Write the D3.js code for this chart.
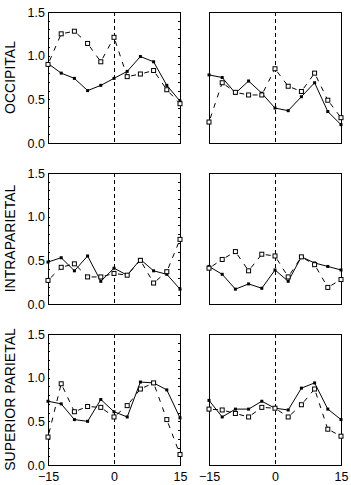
<!DOCTYPE html>
<html>
<head>
<meta charset="utf-8">
<script src="https://cdn.jsdelivr.net/npm/d3@7"></script>
<style>
  body { margin: 0; background: #fff; }
  text { font-family: "Liberation Sans", Arial, sans-serif; fill: #000; }
</style>
</head>
<body>
<div class="canvas"></div>
<script>
// data
const lags = [-15, -12, -9, -6, -3, 0, 3, 6, 9, 12, 15];
const yTicks = [0, 0.5, 1.0, 1.5];
const xTicks = [-15, 0, 15];
const regions = ['OCCIPITAL', 'INTRAPARIETAL', 'SUPERIOR PARIETAL'];

// occipital
const occLeftSolid  = [0.91, 0.80, 0.74, 0.60, 0.66, 0.74, 0.82, 0.99, 0.93, 0.66, 0.48];
const occLeftDash   = [0.90, 1.25, 1.28, 1.14, 0.93, 1.21, 0.76, 0.79, 0.83, 0.61, 0.45];
const occRightSolid = [0.78, 0.75, 0.57, 0.71, 0.57, 0.40, 0.37, 0.53, 0.69, 0.36, 0.21];
const occRightDash  = [0.24, 0.69, 0.58, 0.55, 0.55, 0.85, 0.65, 0.59, 0.80, 0.49, 0.29];

// intraparietal
const intLeftSolid  = [0.48, 0.53, 0.38, 0.55, 0.26, 0.41, 0.33, 0.51, 0.38, 0.34, 0.17];
const intLeftDash   = [0.27, 0.42, 0.46, 0.31, 0.31, 0.35, 0.33, 0.50, 0.24, 0.37, 0.74];
const intRightSolid = [0.43, 0.34, 0.17, 0.23, 0.18, 0.39, 0.26, 0.54, 0.47, 0.43, 0.39];
const intRightDash  = [0.41, 0.51, 0.60, 0.38, 0.57, 0.55, 0.31, 0.54, 0.45, 0.19, 0.28];

// superior parietal
const supLeftSolid  = [0.73, 0.70, 0.52, 0.50, 0.75, 0.61, 0.55, 0.95, 0.94, 0.86, 0.54];
const supLeftDash   = [0.32, 0.93, 0.61, 0.67, 0.66, 0.55, 0.68, 0.87, 0.94, 0.52, 0.12];
const supRightSolid = [0.74, 0.55, 0.64, 0.64, 0.73, 0.65, 0.63, 0.88, 0.94, 0.64, 0.52];
const supRightDash  = [0.64, 0.63, 0.59, 0.55, 0.66, 0.65, 0.55, 0.69, 0.87, 0.41, 0.33];

const panelData = [
    [[occLeftSolid, occLeftDash], [occRightSolid, occRightDash]],
    [[intLeftSolid, intLeftDash], [intRightSolid, intRightDash]],
    [[supLeftSolid, supLeftDash], [supRightSolid, supRightDash]]
];

let svg, dims;

const initDims = () => {
    dims = {
        width: 351, height: 485,
        colX: [48, 209], rowY: [12, 173, 334],
        pw: 132, ph: 131
    };
};

const initSvg = () => {
    svg = d3.select('.canvas')
        .append('svg')
        .attr('width', dims.width)
        .attr('height', dims.height);
};

// draw one panel
const drawPanel = (row, col) => {
    const g = svg.append('g')
        .attr('transform', `translate(${dims.colX[col]}, ${dims.rowY[row]})`);

    const x = d3.scaleLinear().domain([-15, 15]).range([0, dims.pw]);
    const y = d3.scaleLinear().domain([0, 1.5]).range([dims.ph, 0]);

    // frame
    g.append('rect')
        .attr('width', dims.pw)
        .attr('height', dims.ph)
        .attr('fill', 'none')
        .attr('stroke', '#000')
        .attr('stroke-width', 1)
        .attr('shape-rendering', 'crispEdges');

    // lag 0 marker
    g.append('line')
        .attr('x1', x(0)).attr('x2', x(0))
        .attr('y1', 0).attr('y2', dims.ph)
        .attr('stroke', '#000')
        .attr('stroke-dasharray', '4,3')
        .attr('shape-rendering', 'crispEdges');

    if (col === 0) {
        // inside minor ticks on both sides
        const minor = d3.range(0, 1.51, 0.1).map(d => +d.toFixed(1));
        const tl = g.append('g').call(d3.axisRight(y).tickValues(minor).tickSize(2).tickFormat(''));
        const tr = g.append('g').attr('transform', `translate(${dims.pw},0)`)
            .call(d3.axisLeft(y).tickValues(minor).tickSize(2).tickFormat(''));
        [tl, tr].forEach(a => {
            a.select('.domain').remove();
            a.selectAll('line').attr('shape-rendering', 'crispEdges');
        });

        // value labels
        const yl = g.append('g')
            .call(d3.axisLeft(y).tickValues(yTicks).tickSize(0).tickPadding(3).tickFormat(d3.format('.1f')));
        yl.select('.domain').remove();
        yl.selectAll('text').style('font-size', '12.5px')
            .style('font-family', '"Liberation Sans", Arial, sans-serif');

        // region title
        svg.append('text')
            .attr('transform', `translate(15, ${dims.rowY[row] + dims.ph / 2}) rotate(-90)`)
            .attr('text-anchor', 'middle')
            .style('font-size', '14px')
            .text(regions[row]);
    }

    if (row === 2) {
        const xl = g.append('g').attr('transform', `translate(0, ${dims.ph})`)
            .call(d3.axisBottom(x).tickValues(xTicks).tickSize(0).tickPadding(7));
        xl.select('.domain').remove();
        xl.selectAll('text').style('font-size', '12.5px')
            .style('font-family', '"Liberation Sans", Arial, sans-serif');
    }

    const [solid, dash] = panelData[row][col];
    const pts = vals => vals.map((v, i) => ({lag: lags[i], v}));

    // solid series
    const line = d3.line().x(d => x(d.lag)).y(d => y(d.v));
    g.append('path')
        .attr('d', line(pts(solid)))
        .attr('fill', 'none')
        .attr('stroke', '#000')
        .attr('stroke-width', 1);

    // dashed series: dash pattern restarts at every point
    const dp = pts(dash);
    g.selectAll('.dseg')
        .data(d3.pairs(dp))
        .enter()
        .append('line')
        .attr('class', 'dseg')
        .attr('x1', d => x(d[0].lag)).attr('y1', d => y(d[0].v))
        .attr('x2', d => x(d[1].lag)).attr('y2', d => y(d[1].v))
        .attr('stroke', '#000')
        .attr('stroke-width', 1)
        .attr('stroke-dasharray', '5,6')
        .attr('stroke-dashoffset', 7);

    // markers
    g.selectAll('.sm')
        .data(pts(solid))
        .enter()
        .append('rect')
        .attr('class', 'sm')
        .attr('x', d => x(d.lag) - 1.5)
        .attr('y', d => y(d.v) - 1.5)
        .attr('width', 3).attr('height', 3)
        .attr('fill', '#000');

    g.selectAll('.dm')
        .data(dp)
        .enter()
        .append('rect')
        .attr('class', 'dm')
        .attr('x', d => x(d.lag) - 2)
        .attr('y', d => y(d.v) - 2)
        .attr('width', 4).attr('height', 4)
        .attr('fill', '#fff')
        .attr('stroke', '#000')
        .attr('stroke-width', 1);
};

const init = () => {
    initDims();
    initSvg();
    for (let r = 0; r < 3; r++) {
        for (let c = 0; c < 2; c++) drawPanel(r, c);
    }
};

init();
</script>
</body>
</html>
